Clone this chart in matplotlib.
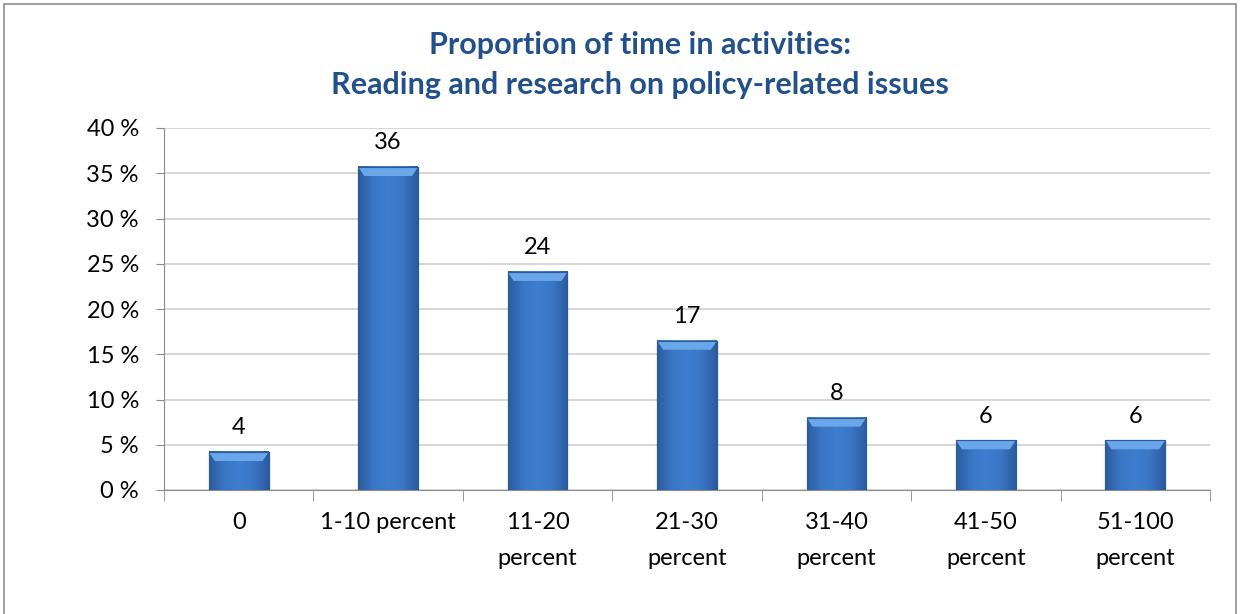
import numpy as np
import matplotlib.pyplot as plt
from matplotlib.patches import Rectangle, Polygon
from matplotlib.colors import LinearSegmentedColormap

# Data
categories = ['0', '1-10 percent', '11-20\npercent', '21-30\npercent',
              '31-40\npercent', '41-50\npercent', '51-100\npercent']
values = [4.2, 35.7, 24.1, 16.5, 8.0, 5.5, 5.5]
labels = ['4', '36', '24', '17', '8', '6', '6']
yticks = [0, 5, 10, 15, 20, 25, 30, 35, 40]

plt.rcParams['font.family'] = ['Lato', 'DejaVu Sans']

fig = plt.figure(figsize=(12.4, 6.14), dpi=100)
ax = fig.add_axes([164 / 1240, 1 - 490 / 614, (1210 - 164) / 1240, (490 - 128) / 614])

x = np.arange(len(categories))
bars = ax.bar(x, values, width=0.4, color='#3A74C0', edgecolor='#2A5A9A', linewidth=0.8, zorder=3)

# soft shading to mimic the bevelled office bars
cmap = LinearSegmentedColormap.from_list('barblue', ['#2C5C9E', '#3A76C6', '#3E7DD0', '#3A76C6', '#2C5C9E'])
grad = np.linspace(0, 1, 60).reshape(1, -1)
for b in bars:
    x0, w, h = b.get_x(), b.get_width(), b.get_height()
    ax.imshow(grad, extent=[x0, x0 + w, 0, h], aspect='auto', cmap=cmap,
              zorder=3.5, origin='lower')
    bev = min(1.0, h * 0.25)
    ax.add_patch(Polygon([(x0, h), (x0 + w, h), (x0 + w - 0.04, h - bev), (x0 + 0.04, h - bev)],
                         closed=True, color='#6AA6EA', zorder=4, lw=0))
    ax.add_patch(Rectangle((x0, 0), w, h, fill=False, edgecolor='#2A5A9A', lw=0.8, zorder=4.5))

for xi, v, lab in zip(x, values, labels):
    ax.text(xi, v + 1.5, lab, ha='center', va='bottom', fontsize=17, color='black')

ax.set_xlim(-0.5, len(categories) - 0.5)
ax.set_ylim(0, 40)
ax.set_yticks(yticks)
ax.set_yticklabels([f'{t} %' for t in yticks], fontsize=17)
ax.yaxis.grid(True, color='#CFCFCF', linewidth=1.2, zorder=0)
ax.set_axisbelow(True)

ax.set_xticks(x)
ax.set_xticklabels(categories, fontsize=17, linespacing=1.85, va='top')
ax.tick_params(axis='x', length=0, pad=16)
ax.set_xticks(np.arange(len(categories) + 1) - 0.5, minor=True)
ax.tick_params(axis='x', which='minor', length=8, color='#8C8C8C', direction='out')
ax.tick_params(axis='y', length=6, color='#8C8C8C', direction='out', pad=12)

for s in ['top', 'right']:
    ax.spines[s].set_visible(False)
for s in ['left', 'bottom']:
    ax.spines[s].set_color('#8C8C8C')

fig.text(640 / 1240, 1 - 45 / 614, 'Proportion of time in activities:', ha='center', va='center',
         fontsize=22, fontweight='bold', color='#22508C')
fig.text(640 / 1240, 1 - 85 / 614, 'Reading and research on policy-related issues', ha='center', va='center',
         fontsize=22, fontweight='bold', color='#22508C')

fig.patches.append(Rectangle((4 / 1240, -0.01), 1232 / 1240, 1 - 4 / 614 + 0.01, transform=fig.transFigure,
                             fill=False, edgecolor='#8C8C8C', linewidth=1.2))

fig.savefig('out.png', dpi=100)
